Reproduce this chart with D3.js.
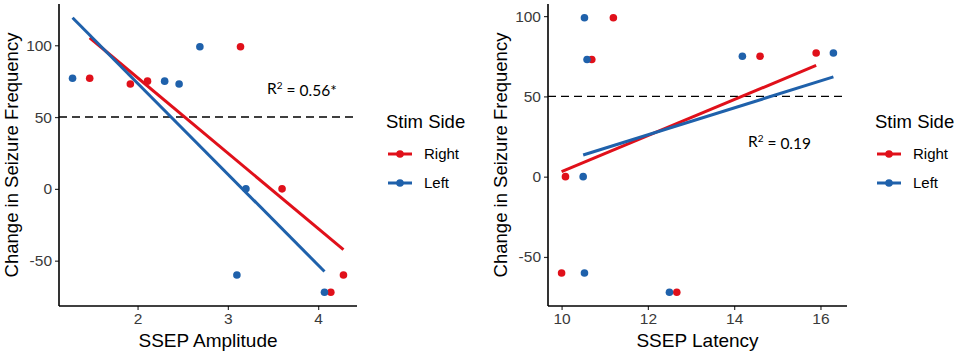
<!DOCTYPE html>
<html>
<head>
<meta charset="utf-8">
<script src="https://cdn.jsdelivr.net/npm/d3@7"></script>
<style>
  body { margin: 0; background: #fff; }
  text { font-family: "Liberation Sans", Arial, sans-serif; }
</style>
</head>
<body>
<div class="container"></div>
<script>
// Frame
const width = 957;
const height = 355;

// Colors
const colorRight = '#e0101a';
const colorLeft = '#1f61ab';

// Stim sides
const sides = ['Right', 'Left'];

// Change in seizure frequency (same patients in both panels)
const changeRight = [77, 73, 75, 99, 0, -60, -72];
const changeLeft = [77, 75, 73, 99, 0, -60, -72];

// SSEP amplitude
const ampRight = [1.47, 1.92, 2.11, 3.14, 3.60, 4.28, 4.14];
const ampLeft = [1.28, 2.30, 2.46, 2.69, 3.20, 3.10, 4.07];

// SSEP latency
const latRight = [15.90, 10.70, 14.60, 11.20, 10.09, 10.00, 12.67];
const latLeft = [16.30, 14.19, 10.59, 10.53, 10.50, 10.53, 12.50];

// Ticks
const ampTicks = [2, 3, 4];
const latTicks = [10, 12, 14, 16];
const changeTicks = [-50, 0, 50, 100];

// Annotations
const ampLabel = { x: 3.82, y: 70, r2: '0.56*' };
const latLabel = { x: 15.05, y: 22, r2: '0.19' };

const threshold = 50;

function fit(xs, ys) {
  const mx = d3.mean(xs);
  const my = d3.mean(ys);
  const sxy = d3.sum(xs, (x, i) => (x - mx) * (ys[i] - my));
  const sxx = d3.sum(xs, x => (x - mx) * (x - mx));
  const slope = sxy / sxx;
  const b = my - slope * mx;
  const [x0, x1] = d3.extent(xs);
  return [[x0, b + slope * x0], [x1, b + slope * x1]];
}

function expand(ext) {
  const d = (ext[1] - ext[0]) * 0.05;
  return [ext[0] - d, ext[1] + d];
}

// plain hyphen for negatives, like R
const tickFmt = d => String(d);

const svg = d3.select('.container')
  .append('svg')
  .attr('width', width)
  .attr('height', height);

function drawPanel(opts) {
  const { left, right, top, bottom } = opts;
  const groups = [
    { side: 'Right', color: colorRight, xs: opts.xRight, ys: changeRight },
    { side: 'Left', color: colorLeft, xs: opts.xLeft, ys: changeLeft },
  ];
  const fits = groups.map(g => fit(g.xs, g.ys));

  const allX = groups.flatMap(g => g.xs);
  const allY = groups.flatMap(g => g.ys).concat(fits.flat().map(p => p[1]));

  const x = d3.scaleLinear().domain(expand(d3.extent(allX))).range([left, right]);
  const y = d3.scaleLinear().domain(expand(d3.extent(allY))).range([bottom, top]);

  const g = svg.append('g');

  // threshold line
  g.append('line')
    .attr('x1', left).attr('x2', right)
    .attr('y1', y(threshold)).attr('y2', y(threshold))
    .attr('stroke', '#000')
    .attr('stroke-width', 1.4)
    .attr('stroke-dasharray', '8,5');

  // regression lines
  g.selectAll('.fit')
    .data(groups)
    .enter()
    .append('line')
    .attr('class', 'fit')
    .attr('x1', (d, i) => x(fits[i][0][0]))
    .attr('y1', (d, i) => y(fits[i][0][1]))
    .attr('x2', (d, i) => x(fits[i][1][0]))
    .attr('y2', (d, i) => y(fits[i][1][1]))
    .attr('stroke', d => d.color)
    .attr('stroke-width', 3);

  // points
  groups.forEach(gr => {
    g.selectAll(null)
      .data(gr.xs.map((v, i) => [v, gr.ys[i]]))
      .enter()
      .append('circle')
      .attr('cx', d => x(d[0]))
      .attr('cy', d => y(d[1]))
      .attr('r', 3.8)
      .attr('fill', gr.color);
  });

  // axes
  const xAxis = g.append('g')
    .attr('transform', `translate(0,${bottom})`)
    .call(d3.axisBottom(x).tickValues(opts.xTicks).tickFormat(tickFmt)
      .tickSize(4).tickPadding(3));
  const yAxis = g.append('g')
    .attr('transform', `translate(${left},0)`)
    .call(d3.axisLeft(y).tickValues(changeTicks).tickFormat(tickFmt)
      .tickSize(4).tickPadding(3));
  [xAxis, yAxis].forEach(a => {
    a.select('.domain').remove();
    a.selectAll('.tick line').attr('stroke', '#333').attr('stroke-width', 1.2);
    a.selectAll('.tick text').attr('fill', '#3a3a3a').style('font-size', '15.5px');
  });
  g.append('line')
    .attr('x1', left).attr('x2', right).attr('y1', bottom).attr('y2', bottom)
    .attr('stroke', '#000').attr('stroke-width', 1.6);
  g.append('line')
    .attr('x1', left).attr('x2', left).attr('y1', top).attr('y2', bottom)
    .attr('stroke', '#000').attr('stroke-width', 1.6);

  // axis titles
  g.append('text')
    .attr('x', (left + right) / 2)
    .attr('y', 347)
    .attr('text-anchor', 'middle')
    .style('font-size', '19px')
    .text(opts.xTitle);
  g.append('text')
    .attr('transform', `translate(${opts.yTitleX},${(top + bottom) / 2}) rotate(-90)`)
    .attr('text-anchor', 'middle')
    .style('font-size', '18.5px')
    .text('Change in Seizure Frequency');

  // R squared
  const r2 = g.append('text')
    .attr('x', x(opts.label.x))
    .attr('y', y(opts.label.y))
    .attr('text-anchor', 'middle')
    .attr('dy', '0.35em')
    .style('font-family', 'Lato, "Open Sans", sans-serif')
    .style('font-size', '15.5px');
  r2.append('tspan').text('R');
  r2.append('tspan').attr('dy', '-0.45em').style('font-size', '10px').text('2');
  r2.append('tspan').attr('dy', '0.45em').text(' = ' + opts.label.r2);

  // legend
  const lg = g.append('g').attr('transform', `translate(${opts.legendX},0)`);
  lg.append('text')
    .attr('x', 0).attr('y', 128)
    .style('font-size', '18.5px')
    .text('Stim Side');
  const items = lg.selectAll('.key')
    .data(groups)
    .enter()
    .append('g')
    .attr('class', 'key')
    .attr('transform', (d, i) => `translate(0,${154 + i * 29})`);
  items.append('line')
    .attr('x1', 2).attr('x2', 26)
    .attr('stroke', d => d.color)
    .attr('stroke-width', 3);
  items.append('circle')
    .attr('cx', 14).attr('r', 3.8)
    .attr('fill', d => d.color);
  items.append('text')
    .attr('x', 38).attr('dy', '0.35em')
    .style('font-size', '15px')
    .text(d => d.side);
}

drawPanel({
  left: 59, right: 357, top: 4, bottom: 306,
  xRight: ampRight, xLeft: ampLeft, xTicks: ampTicks,
  xTitle: 'SSEP Amplitude', yTitleX: 18,
  label: ampLabel, legendX: 386,
});

drawPanel({
  left: 548, right: 847, top: 4, bottom: 306,
  xRight: latRight, xLeft: latLeft, xTicks: latTicks,
  xTitle: 'SSEP Latency', yTitleX: 507,
  label: latLabel, legendX: 875,
});
</script>
</body>
</html>
